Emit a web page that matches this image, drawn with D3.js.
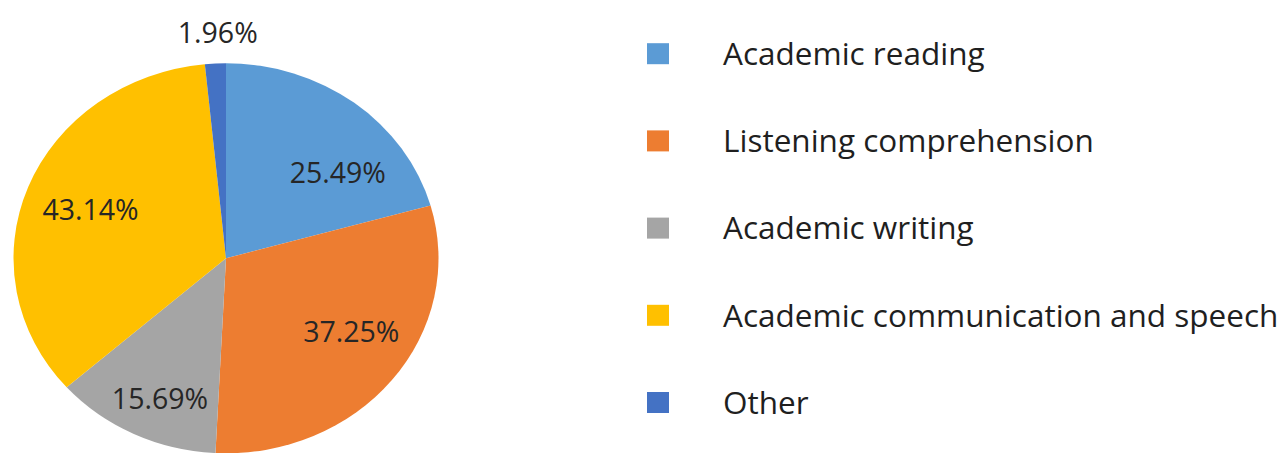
<!DOCTYPE html>
<html>
<head>
<meta charset="utf-8">
<script src="https://cdn.jsdelivr.net/npm/d3@7"></script>
<style>
    html, body { margin: 0; padding: 0; background: #fff; }
    svg { display: block; font-family: 'Open Sans', 'Noto Sans', sans-serif; }
</style>
</head>
<body>
<div id="chart"></div>
<script>
'use strict';

// data
const categories = [
    'Academic reading',
    'Listening comprehension',
    'Academic writing',
    'Academic communication and speech',
    'Other'
];
const shares = [25.49, 37.25, 15.69, 43.14, 1.96];
const sliceColors = ['#5B9BD5', '#ED7D31', '#A5A5A5', '#FFC000', '#4472C4'];

// layout
const W = 1282;
const H = 453;
const CX = 226;
const CY = 258.3;
const R = 212.5;
const SQUASH = 195 / 212.5;       // pie is drawn a little flatter than round
// small shifts for "best fit" label placement, [dx, dy] px
const labelNudge = [[22, 23], [9, -12], [-1.5, 17], [3, 1.5], [4, 0]];

const svg = d3.select('#chart')
    .append('svg')
    .attr('width', W)
    .attr('height', H);

const rows = categories.map((name, i) => ({ name: name, value: shares[i], color: sliceColors[i], i: i }));

const pie = d3.pie()
    .sort(null)
    .value(d => d.value);

const arcs = pie(rows);

const arc = d3.arc()
    .innerRadius(0)
    .outerRadius(R);

const labelArc = d3.arc()
    .innerRadius(R * 0.7)
    .outerRadius(R * 0.7);

const outerArc = d3.arc()
    .innerRadius(R * 1.158)
    .outerRadius(R * 1.158);

//#region PIE
svg.append('g')
    .attr('transform', `translate(${CX},${CY}) scale(1,${SQUASH})`)
    .selectAll('path')
    .data(arcs)
    .enter()
    .append('path')
    .attr('d', arc)
    .attr('fill', d => d.data.color);

svg.append('g')
    .selectAll('text')
    .data(arcs)
    .enter()
    .append('text')
    .attr('x', d => {
        // tiny slices get their label outside the pie
        const c = d.data.value < 5 ? outerArc.centroid(d) : labelArc.centroid(d);
        return CX + c[0] + labelNudge[d.index][0];
    })
    .attr('y', d => {
        const c = d.data.value < 5 ? outerArc.centroid(d) : labelArc.centroid(d);
        return CY + c[1] * SQUASH + labelNudge[d.index][1];
    })
    .attr('dy', '0.36em')
    .attr('text-anchor', 'middle')
    .attr('font-size', 28.5)
    .attr('fill', '#262626')
    .text(d => `${d.data.value.toFixed(2)}%`);
//#endregion

//#region LEGEND
const legendY = d3.scalePoint()
    .domain(categories)
    .range([53.7, 402.5]);

const legend = svg.append('g')
    .selectAll('g')
    .data(rows)
    .enter()
    .append('g')
    .attr('transform', d => `translate(0,${legendY(d.name)})`);

legend.append('rect')
    .attr('x', 647)
    .attr('y', -10.5)
    .attr('width', 22)
    .attr('height', 21)
    .attr('fill', d => d.color);

legend.append('text')
    .attr('x', 723)
    .attr('dy', '0.36em')
    .attr('font-size', 31.5)
    .attr('fill', '#1f1f1f')
    .text(d => d.name);
//#endregion
</script>
</body>
</html>
